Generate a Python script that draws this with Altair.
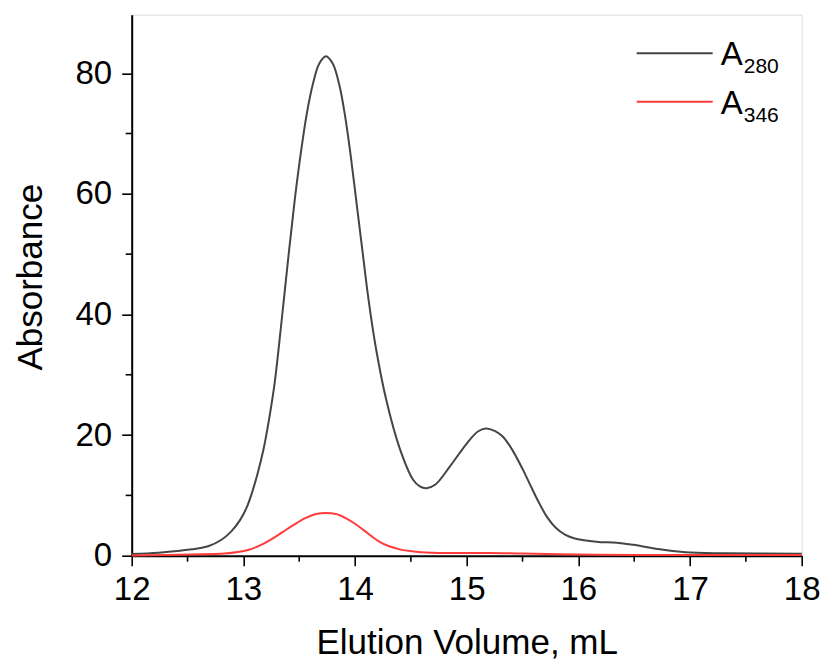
import altair as alt
import pandas as pd

# ---- data ----
vol_280 = [12.00, 12.24, 12.54, 12.69, 12.80, 12.89, 12.97, 13.03, 13.08, 13.13, 13.18, 13.23,
           13.28, 13.34, 13.40, 13.46, 13.52, 13.57, 13.62, 13.68, 13.74, 13.80, 13.86, 13.91,
           13.96, 14.02, 14.07, 14.12, 14.19, 14.28, 14.40, 14.52, 14.58, 14.64, 14.72, 14.85,
           15.00, 15.10, 15.17, 15.25, 15.32, 15.40, 15.50, 15.58, 15.65, 15.72, 15.80, 15.88,
           15.96, 16.05, 16.20, 16.31, 16.49, 16.73, 16.96, 17.32, 18.00]
abs_280 = [0.28, 0.5, 1.06, 1.6, 2.6, 4.0, 5.9, 8.0, 10.6, 13.8, 17.6, 22.6,
           28.6, 38.5, 49.0, 59.0, 67.5, 73.5, 78.0, 81.6, 82.8, 81.6, 78.0, 73.0,
           66.5, 57.5, 50.0, 42.6, 34.1, 25.8, 17.8, 12.6, 11.5, 11.2, 11.8, 14.8,
           18.6, 20.6, 21.1, 20.7, 19.8, 17.8, 14.4, 11.3, 8.7, 6.4, 4.6, 3.5,
           2.9, 2.55, 2.25, 2.2, 1.8, 1.06, 0.56, 0.4, 0.33]

vol_346 = [12.00, 12.54, 12.83, 12.95, 13.05, 13.15, 13.25, 13.35, 13.45, 13.55, 13.65,
           13.74, 13.83, 13.92, 14.00, 14.08, 14.15, 14.22, 14.30, 14.40, 14.55, 14.75,
           15.20, 15.50, 16.00, 16.50, 18.00]
abs_346 = [0.05, 0.2, 0.35, 0.6, 1.0, 1.7, 2.7, 3.9, 5.1, 6.2, 6.9,
           7.1, 6.9, 6.2, 5.3, 4.2, 3.2, 2.3, 1.6, 1.05, 0.65, 0.45,
           0.45, 0.35, 0.2, 0.12, 0.1]

x_major = [12, 13, 14, 15, 16, 17, 18]
x_minor = [12.5, 13.5, 14.5, 15.5, 16.5, 17.5]
y_major = [0, 20, 40, 60, 80]
y_minor = [10, 30, 50, 70]

series_names = ["A280", "A346"]
series_colors = ["#454545", "#ff3b3b"]

df = pd.concat([
    pd.DataFrame({"vol": vol_280, "abs": abs_280, "series": "A280"}),
    pd.DataFrame({"vol": vol_346, "abs": abs_346, "series": "A346"}),
])

W, H = 670, 541
FONT = "Liberation Sans"

xs = alt.Scale(domain=[12, 18], nice=False, zero=False)
ys = alt.Scale(domain=[0, 89.7], nice=False, zero=False)

lines = alt.Chart(df).mark_line(strokeWidth=2, interpolate="catmull-rom").encode(
    x=alt.X("vol:Q", scale=xs, title="Elution Volume, mL",
            axis=alt.Axis(values=x_major, format="d", tickSize=10, tickWidth=1.6,
                          domainWidth=2, domainColor="black", tickColor="black",
                          labelFont=FONT, labelFontSize=33, labelColor="black",
                          labelBaseline="alphabetic", labelPadding=34, labelFlush=False,
                          titleFont=FONT, titleFontSize=35, titleFontWeight="normal",
                          titleColor="black", titleBaseline="alphabetic", titleY=98,
                          grid=False)),
    y=alt.Y("abs:Q", scale=ys, title="Absorbance",
            axis=alt.Axis(values=y_major, tickSize=10, tickWidth=1.6,
                          domainWidth=2, domainColor="black", tickColor="black",
                          labelFont=FONT, labelFontSize=33, labelColor="black",
                          labelPadding=10, labelFlush=False,
                          titleFont=FONT, titleFontSize=35, titleFontWeight="normal",
                          titleColor="black", titleBaseline="alphabetic", titleX=-90,
                          titleY=262, titleAngle=-90, grid=False)),
    color=alt.Color("series:N", scale=alt.Scale(domain=series_names, range=series_colors),
                    legend=None),
)

xminor = alt.Chart(pd.DataFrame({"v": x_minor})).mark_rule(color="black", strokeWidth=1.6).encode(
    x=alt.X("v:Q", scale=xs), y=alt.value(H), y2=alt.value(H + 6))
yminor = alt.Chart(pd.DataFrame({"v": y_minor})).mark_rule(color="black", strokeWidth=1.6).encode(
    y=alt.Y("v:Q", scale=ys), x=alt.value(0), x2=alt.value(-6))

# manual legend (with subscripts)
leg = []
for i, (name, col) in enumerate(zip(series_names, series_colors)):
    yy = 38.6 + i * 48.5
    leg.append(alt.Chart(pd.DataFrame({"a": [0]})).mark_rule(color=col, strokeWidth=2).encode(
        x=alt.value(505), x2=alt.value(581), y=alt.value(yy)))
    leg.append(alt.Chart(pd.DataFrame({"a": [0]})).mark_text(
        text="A", font=FONT, fontSize=33, align="left", baseline="alphabetic", color="black").encode(
        x=alt.value(589), y=alt.value(yy + 11.8)))
    leg.append(alt.Chart(pd.DataFrame({"a": [0]})).mark_text(
        text=name[1:], font=FONT, fontSize=21, align="left", baseline="alphabetic", color="black").encode(
        x=alt.value(612), y=alt.value(yy + 20)))

chart = alt.layer(lines, xminor, yminor, *leg).properties(
    width=W, height=H,
    autosize=alt.AutoSizeParams(type="none"),
    padding={"left": 131.7, "top": 14.7, "right": 24.3, "bottom": 104.3},
).configure_view(stroke="black", strokeWidth=2).configure(background="white")

chart.save("out.html", embed_options={"renderer": "svg", "actions": False})
